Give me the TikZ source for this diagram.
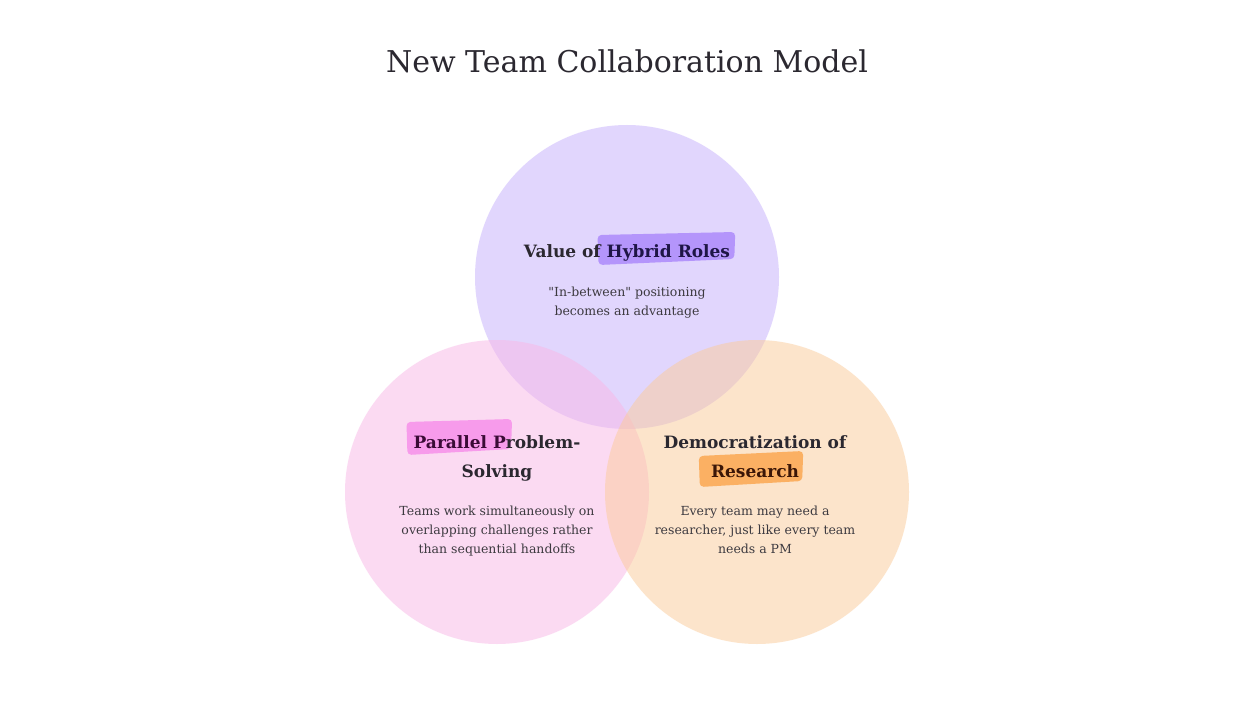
\documentclass[tikz,border=0pt]{standalone}
\usepackage{fontspec}
\setmainfont{DejaVu Serif}[Ligatures=TeXOff]
\usetikzlibrary{positioning,calc,backgrounds}
\definecolor{violcol}{HTML}{C5AFFD}
\definecolor{pinkcol}{HTML}{F9B7E7}
\definecolor{orngcol}{HTML}{FBCB99}
\definecolor{violmark}{HTML}{B495FB}
\definecolor{pinkmark}{HTML}{F79BEB}
\definecolor{orngmark}{HTML}{FBB063}
\definecolor{violink}{HTML}{1E1546}
\definecolor{pinkink}{HTML}{3A0B36}
\definecolor{orngink}{HTML}{3B1607}
\definecolor{inkcol}{HTML}{2B2830}
\definecolor{bodycol}{HTML}{3D3A40}

\begin{document}
\begin{tikzpicture}[
  x=1pt, y=-1pt,
  every node/.style={text=inkcol},
  %% translucent venn disc  \node[disc=violcol]{}
  disc/.style={
    circle, fill=#1, fill opacity=0.5, draw=none,
    minimum size=304pt, inner sep=0pt
  },
  %% bold heading line, placed on its baseline
  head/.style={
    font=\fontsize{17}{22}\selectfont\bfseries,
    inner sep=0pt, anchor=base
  },
  %% small body paragraph, placed on the baseline of its last line
  body/.style={
    font=\fontsize{12.5}{19}\selectfont,
    text=bodycol, align=center, inner sep=0pt, anchor=base
  },
  %% invisible box the marker stroke is fitted to
  hlbox/.style={head, text height=0pt, text depth=0pt},
]

\useasboundingbox (0,0) rectangle (1256,706);

%%── Title ────────────────────────────────────────────────────────────────────
\node[font=\fontsize{30}{36}\selectfont, inner sep=0pt, anchor=base] (title)
  at (627,73) {New Team Collaboration Model};

%%══════════════════════════════════════════════════════════════════════════════
%%  HYBRID ROLES  (top disc)
%%══════════════════════════════════════════════════════════════════════════════
\node[head] (vhead) at (627,257)
  {Value of \textcolor{violink}{Hybrid Roles}};
\node[hlbox, anchor=base east] (vmark) at (vhead.base east)
  {\phantom{Hybrid Roles}};

\node[body] (vbody) at (627,315)
  {"In-between" positioning\\
   becomes an advantage};

%%══════════════════════════════════════════════════════════════════════════════
%%  PARALLEL PROBLEM-SOLVING  (left disc)
%%══════════════════════════════════════════════════════════════════════════════
\node[head] (phead) at (497,448)
  {\textcolor{pinkink}{Parallel P}roblem-};
\node[hlbox, anchor=base west] (pmark) at (phead.base west)
  {\phantom{Parallel P}};
\node[head] (psub) at ($(phead.base)+(0,29)$) {Solving};

\node[body] (pbody) at (497,553)
  {Teams work simultaneously on\\
   overlapping challenges rather\\
   than sequential handoffs};

%%══════════════════════════════════════════════════════════════════════════════
%%  DEMOCRATIZATION OF RESEARCH  (right disc)
%%══════════════════════════════════════════════════════════════════════════════
\node[head] (ohead) at (755,448) {Democratization of};
\node[head] (osub) at ($(ohead.base)+(0,29)$)
  {\textcolor{orngink}{Research}};
\node[hlbox, anchor=base] (omark) at (osub.base)
  {\phantom{Research}};

\node[body] (obody) at (755,553)
  {Every team may need a\\
   researcher, just like every team\\
   needs a PM};

%%── Page, discs and marker strokes behind the text ───────────────────────────
\begin{scope}[on background layer]
  \fill[white] (0,0) rectangle (1256,706);

  \node[disc=violcol] (vdisc) at (627,277) {};
  \node[disc=pinkcol] (pdisc) at (497,492) {};
  \node[disc=orngcol] (odisc) at (757,492) {};

  \fill[violmark, rounded corners=4pt]
    ($(vmark.base west)+(-9,-22)$) -- ($(vmark.base east)+(5,-25)$)
    -- ($(vmark.base east)+(4,2)$) -- ($(vmark.base west)+(-8,8)$) -- cycle;
  \fill[pinkmark, rounded corners=4pt]
    ($(pmark.base west)+(-7,-26)$) -- ($(pmark.base east)+(6,-29)$)
    -- ($(pmark.base east)+(5,1)$) -- ($(pmark.base west)+(-6,7)$) -- cycle;
  \fill[orngmark, rounded corners=4pt]
    ($(omark.base west)+(-12,-21)$) -- ($(omark.base east)+(4,-26)$)
    -- ($(omark.base east)+(3,4)$) -- ($(omark.base west)+(-11,10)$) -- cycle;
\end{scope}

\end{tikzpicture}
\end{document}
